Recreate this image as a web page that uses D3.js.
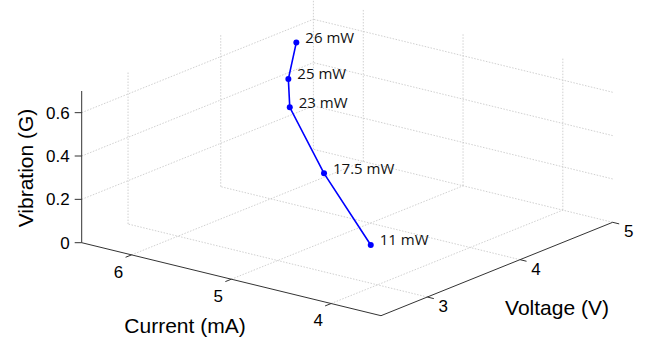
<!DOCTYPE html>
<html>
<head>
<meta charset="utf-8">
<script src="https://cdn.jsdelivr.net/npm/d3@7"></script>
<style>
  body { margin: 0; background: #fff; }
  svg { display: block; }
</style>
</head>
<body>
<div id="chart"></div>
<script>
// measured points (current, voltage, vibration) with power labels
const current   = [3.9, 5.0, 5.78, 5.98, 6.03];
const voltage   = [2.82, 3.5, 3.97, 4.17, 4.31];
const vibration = [0.226, 0.316, 0.452, 0.526, 0.665];
const powerLabels = ["11 mW", "17.5 mW", "23 mW", "25 mW", "26 mW"];

const currentTicks = [4, 5, 6];
const voltageTicks = [3, 4, 5];
const vibrationTicks = [0, 0.2, 0.4, 0.6];

const width = 646, height = 337;

const svg = d3.select("#chart").append("svg")
    .attr("width", width)
    .attr("height", height);

// axis ranges -> 0..1 along each box edge
const iScale = d3.scaleLinear().domain([3.5, 6.5]).range([0, 1]);
const vScale = d3.scaleLinear().domain([2.5, 5]).range([0, 1]);
const zScale = d3.scaleLinear().domain([0, 0.7]).range([0, 151.7]);

// screen corners of the floor
const front = [381, 315.7];   // (I min, V min)
const left  = [81.7, 242.7];  // (I max, V min)
const right = [612.7, 222.3]; // (I min, V max)

function project(i, v, z) {
    const a = iScale(i), b = vScale(v);
    return [
        front[0] + a * (left[0] - front[0]) + b * (right[0] - front[0]),
        front[1] + a * (left[1] - front[1]) + b * (right[1] - front[1]) - zScale(z)
    ];
}

const [i0, i1] = iScale.domain();
const [v0, v1] = vScale.domain();
const [z0, z1] = zScale.domain();

// grid lines (floor + two back walls)
const grid = [];
currentTicks.forEach(t => {
    grid.push([[t, v0, 0], [t, v1, 0]]);
    grid.push([[t, v1, z0], [t, v1, z1]]);
});
voltageTicks.forEach(t => {
    grid.push([[i0, t, 0], [i1, t, 0]]);
    grid.push([[i1, t, z0], [i1, t, z1]]);
});
vibrationTicks.filter(t => t > 0).forEach(t => {
    grid.push([[i1, v0, t], [i1, v1, t]]);
    grid.push([[i0, v1, t], [i1, v1, t]]);
});

svg.append("g")
    .selectAll("line")
    .data(grid)
    .join("line")
    .attr("x1", d => project(...d[0])[0])
    .attr("y1", d => project(...d[0])[1])
    .attr("x2", d => project(...d[1])[0])
    .attr("y2", d => project(...d[1])[1])
    .attr("stroke", "#c4c4c4")
    .attr("stroke-width", 0.8)
    .attr("stroke-dasharray", "1.5,1.5");

// axis lines
const axisColor = "#333";
const axes = [
    [[i1, v0, z0], [i1, v0, z1]],
    [[i1, v0, 0], [i0, v0, 0]],
    [[i0, v0, 0], [i0, v1, 0]]
];
svg.append("g")
    .selectAll("line")
    .data(axes)
    .join("line")
    .attr("x1", d => project(...d[0])[0])
    .attr("y1", d => project(...d[0])[1])
    .attr("x2", d => project(...d[1])[0])
    .attr("y2", d => project(...d[1])[1])
    .attr("stroke", axisColor)
    .attr("stroke-width", 1);

const tickFont = "'Liberation Sans', Arial, sans-serif";

// vibration ticks
const zt = svg.append("g");
vibrationTicks.forEach(t => {
    const p = project(i1, v0, t);
    zt.append("line")
        .attr("x1", p[0]).attr("y1", p[1])
        .attr("x2", p[0] - 7).attr("y2", p[1])
        .attr("stroke", axisColor);
    zt.append("text")
        .attr("x", p[0] - 12).attr("y", p[1])
        .attr("dy", "0.35em")
        .attr("text-anchor", "end")
        .attr("font-family", tickFont)
        .attr("font-size", 17)
        .text(t);
});

// current ticks (point away from voltage axis)
const ct = svg.append("g");
currentTicks.forEach(t => {
    const p = project(t, v0, 0);
    ct.append("line")
        .attr("x1", p[0]).attr("y1", p[1])
        .attr("x2", p[0] - 6).attr("y2", p[1] + 2.4)
        .attr("stroke", axisColor);
    ct.append("text")
        .attr("x", p[0] - 13).attr("y", p[1] + 17)
        .attr("dy", "0.35em")
        .attr("text-anchor", "middle")
        .attr("font-family", tickFont)
        .attr("font-size", 17)
        .text(t);
});

// voltage ticks
const vt = svg.append("g");
voltageTicks.forEach(t => {
    const p = project(i0, t, 0);
    vt.append("line")
        .attr("x1", p[0]).attr("y1", p[1])
        .attr("x2", p[0] + 6.5).attr("y2", p[1] + 1.6)
        .attr("stroke", axisColor);
    vt.append("text")
        .attr("x", p[0] + 16).attr("y", p[1] + 9)
        .attr("dy", "0.35em")
        .attr("text-anchor", "middle")
        .attr("font-family", tickFont)
        .attr("font-size", 17)
        .text(t);
});

// axis titles
svg.append("text")
    .attr("x", 185).attr("y", 333)
    .attr("text-anchor", "middle")
    .attr("font-family", tickFont)
    .attr("font-size", 21)
    .text("Current (mA)");

svg.append("text")
    .attr("x", 557).attr("y", 315)
    .attr("text-anchor", "middle")
    .attr("font-family", tickFont)
    .attr("font-size", 21)
    .text("Voltage (V)");

svg.append("text")
    .attr("transform", "translate(33,168) rotate(-90)")
    .attr("text-anchor", "middle")
    .attr("font-family", tickFont)
    .attr("font-size", 21)
    .text("Vibration (G)");

// data line
const pts = current.map((c, k) => project(c, voltage[k], vibration[k]));

svg.append("path")
    .datum(pts)
    .attr("fill", "none")
    .attr("stroke", "#0000ff")
    .attr("stroke-width", 1.6)
    .attr("d", d3.line());

svg.append("g")
    .selectAll("circle")
    .data(pts)
    .join("circle")
    .attr("cx", d => d[0])
    .attr("cy", d => d[1])
    .attr("r", 3)
    .attr("fill", "#0000ff");

svg.append("g")
    .selectAll("text")
    .data(pts)
    .join("text")
    .attr("x", d => d[0] + 9)
    .attr("y", d => d[1] - 5)
    .attr("dy", "0.35em")
    .attr("font-family", "'Open Sans', sans-serif")
    .attr("font-size", 15)
    .attr("fill", "#111")
    .text((d, k) => powerLabels[k]);
</script>
</body>
</html>
